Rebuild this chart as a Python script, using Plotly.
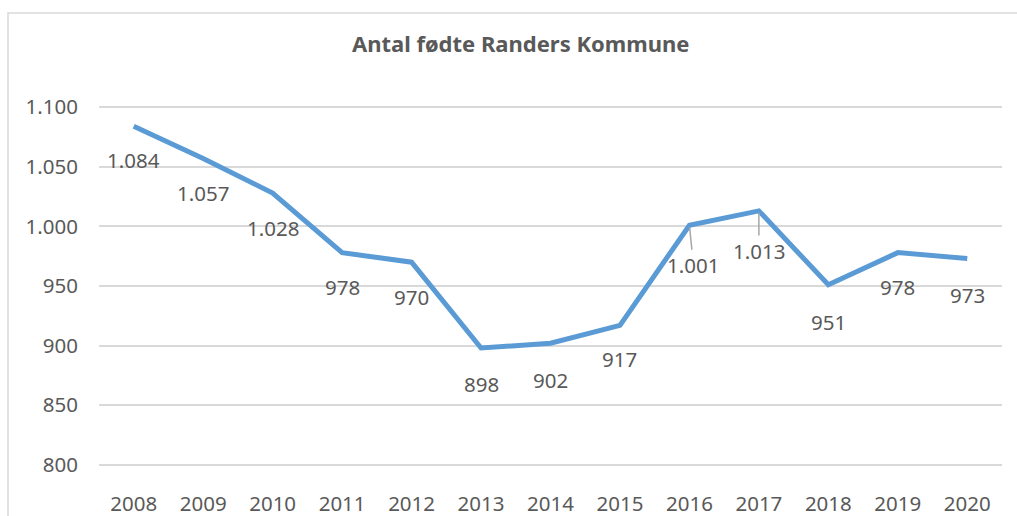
import plotly.graph_objects as go

years = ["2008", "2009", "2010", "2011", "2012", "2013", "2014",
         "2015", "2016", "2017", "2018", "2019", "2020"]
births = [1084, 1057, 1028, 978, 970, 898, 902, 917, 1001, 1013, 951, 978, 973]
label_texts = ["1.084", "1.057", "1.028", "978", "970", "898", "902",
               "917", "1.001", "1.013", "951", "978", "973"]
y_ticks = [800, 850, 900, 950, 1000, 1050, 1100]
y_tick_labels = ["800", "850", "900", "950", "1.000", "1.050", "1.100"]

# label offsets in pixels (dx, dy downward), leader flag
label_dx = [0, 0, 0, 0, 0, 0, 0, 0, 4, 0, 0, 0, 0]
label_dy = [34, 35, 35, 34, 35, 36, 37, 34, 40, 40, 37, 34, 36]
leader = [False] * 8 + [True, True] + [False] * 3

TXT = "#595959"
FONT = "Noto Sans"
FS = 20.5

idx = list(range(len(years)))

fig = go.Figure()
fig.add_trace(go.Scatter(
    x=idx, y=births, mode="lines",
    line=dict(color="#5B9BD5", width=5, shape="linear"),
    hoverinfo="y", showlegend=False,
))

annotations = []
for i, v, t, dx, dy, ld in zip(idx, births, label_texts, label_dx, label_dy, leader):
    if ld:
        annotations.append(dict(
            x=i, y=v, xref="x", yref="y", text=t, showarrow=True,
            arrowhead=0, arrowwidth=1.5, arrowcolor="#A6A6A6",
            ax=dx, ay=dy, font=dict(family=FONT, size=FS, color=TXT),
            standoff=2,
        ))
    else:
        annotations.append(dict(
            x=i, y=v, xref="x", yref="y", text=t, showarrow=False,
            xshift=dx, yshift=-dy, font=dict(family=FONT, size=FS, color=TXT),
        ))

T, B = 106, 50
H = 516 - T - B
fig.update_layout(
    width=1017, height=516,
    margin=dict(l=99, r=15, t=T, b=B, autoexpand=False),
    paper_bgcolor="white", plot_bgcolor="white",
    title=dict(text="<b>Antal fødte Randers Kommune</b>", x=0.512, xanchor="center",
               y=1 - 44 / 516, yanchor="middle",
               font=dict(family=FONT, size=22, color=TXT)),
    xaxis=dict(range=[-0.5, len(years) - 0.5], tickvals=idx, ticktext=years,
               showgrid=False, zeroline=False, showline=False, automargin=False,
               ticks="", tickfont=dict(family=FONT, size=FS, color=TXT),
               ticklabelstandoff=23, fixedrange=True),
    yaxis=dict(range=[799, 1101], tickvals=y_ticks, ticktext=y_tick_labels,
               showgrid=True, gridcolor="#D9D9D9", gridwidth=1.5, zeroline=False,
               showline=False, ticks="", automargin=False,
               tickfont=dict(family=FONT, size=FS, color=TXT),
               ticklabelstandoff=20, fixedrange=True),
    annotations=annotations,
    shapes=[dict(type="rect", xref="paper", yref="paper",
                 x0=(8 - 99) / 903, x1=(1030 - 99) / 903,
                 y0=-(530 - (516 - B)) / H, y1=1 + (T - 13) / H,
                 line=dict(color="#D9D9D9", width=1.5), fillcolor="rgba(0,0,0,0)",
                 layer="below")],
)

fig.write_html("out.html", config={"displayModeBar": False},
               post_script="document.body.style.margin='0';document.body.style.overflow='hidden';")
